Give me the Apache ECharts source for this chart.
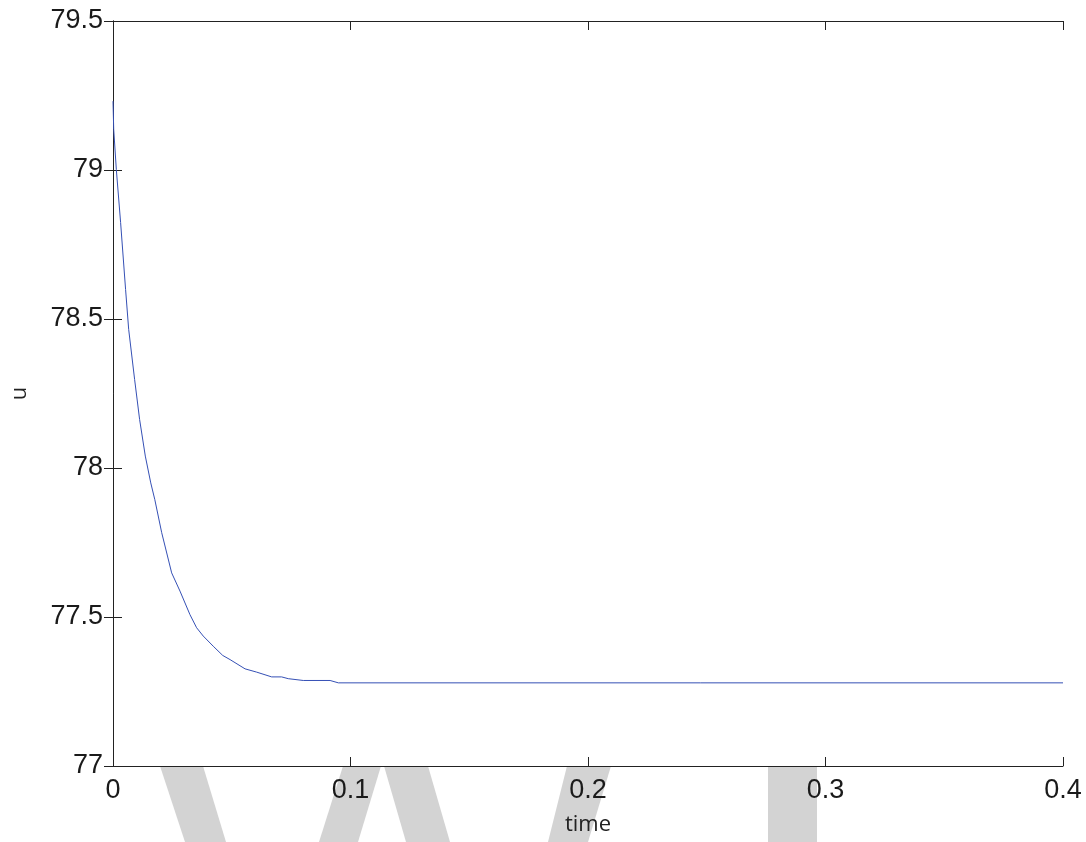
<!DOCTYPE html>
<html>
<head>
<meta charset="utf-8">
<script src="https://cdn.jsdelivr.net/npm/echarts@6/dist/echarts.min.js"></script>
<style>
  html, body { margin: 0; padding: 0; background: #fff; }
  #chart { width: 1086px; height: 842px; }
</style>
</head>
<body>
<div id="chart"></div>
<script>
// values
const time = [0, 0.0003, 0.0014, 0.0032, 0.0053, 0.0066, 0.0091, 0.0112, 0.0136, 0.0159, 0.0176,
  0.0205, 0.0247, 0.0282, 0.0324, 0.0352, 0.038, 0.0422, 0.0462, 0.0493, 0.0556, 0.0605,
  0.0668, 0.071, 0.0738, 0.0801, 0.0914, 0.0949, 0.4];
const u = [79.231, 79.136, 79.002, 78.824, 78.599, 78.465, 78.297, 78.163, 78.04, 77.95, 77.894,
  77.783, 77.648, 77.587, 77.508, 77.464, 77.436, 77.402, 77.371, 77.357, 77.326, 77.315,
  77.299, 77.299, 77.293, 77.287, 77.287, 77.279, 77.279];

const xTicks = [0, 0.1, 0.2, 0.3, 0.4];
const yTicks = [77, 77.5, 78, 78.5, 79, 79.5];

const labelFont = 'Liberation Sans, Arial, sans-serif';
const axisColor = '#222';

// gray watermark strokes under the x axis (decoration only)
const mark = [
  [[160, 766], [203, 766], [226, 842], [185, 842]],
  [[343, 766], [381, 766], [358, 842], [319, 842]],
  [[384, 766], [428, 766], [450, 842], [406, 842]],
  [[567, 766], [611, 766], [588, 842], [548, 842]],
  [[768, 766], [817, 766], [817, 842], [768, 842]]
];

let chart = echarts.init(document.getElementById('chart'));

let baseX = {
  type: 'value',
  min: 0,
  max: 0.4,
  interval: 0.1,
  splitLine: {show: false},
  axisLine: {show: true, lineStyle: {color: axisColor, width: 1}},
  axisTick: {show: true, inside: true, length: 9, lineStyle: {color: axisColor}}
};
let baseY = {
  type: 'value',
  min: 77,
  max: 79.5,
  interval: 0.5,
  splitLine: {show: false},
  axisLine: {show: true, lineStyle: {color: axisColor, width: 1}},
  axisTick: {show: true, inside: true, length: 9, lineStyle: {color: axisColor}}
};

let option = {
  backgroundColor: '#fff',
  animation: false,
  grid: {left: 113, right: 23, top: 21, bottom: 76},
  graphic: mark.map(p => ({
    type: 'polygon',
    silent: true,
    z: -10,
    shape: {points: p},
    style: {fill: '#d3d3d3'}
  })),
  xAxis: [
    Object.assign({}, baseX, {
      position: 'bottom',
      name: 'time',
      nameLocation: 'middle',
      nameGap: 48,
      nameTextStyle: {fontFamily: 'Open Sans, sans-serif', fontSize: 22, color: '#222'},
      axisLabel: {
        margin: 11,
        fontFamily: labelFont,
        fontSize: 27,
        color: '#1a1a1a',
        formatter: v => xTicks.includes(+v.toFixed(1)) ? String(+v.toFixed(1)) : ''
      }
    }),
    Object.assign({}, baseX, {position: 'top', axisLabel: {show: false}})
  ],
  yAxis: [
    Object.assign({}, baseY, {
      position: 'left',
      name: 'u',
      nameLocation: 'middle',
      nameGap: 82,
      nameTextStyle: {fontFamily: 'Open Sans, sans-serif', fontSize: 22, color: '#222'},
      axisLabel: {
        margin: 10,
        fontFamily: labelFont,
        fontSize: 27,
        color: '#1a1a1a',
        formatter: v => yTicks.includes(+v.toFixed(1)) ? String(+v.toFixed(1)) : ''
      }
    }),
    Object.assign({}, baseY, {position: 'right', axisLabel: {show: false}})
  ],
  series: [{
    type: 'line',
    data: time.map((t, i) => [t, u[i]]),
    showSymbol: false,
    symbol: 'none',
    lineStyle: {color: '#3550b5', width: 1},
    clip: true
  }]
};

chart.setOption(option);
</script>
</body>
</html>
